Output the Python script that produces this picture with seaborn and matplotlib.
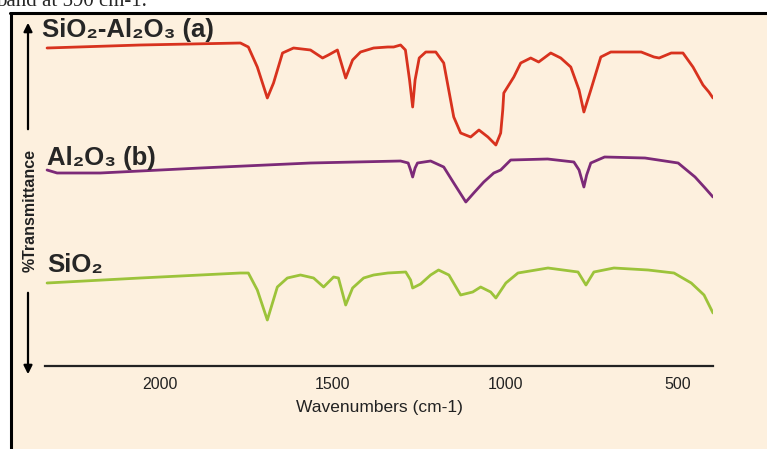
import numpy as np
import pandas as pd
import matplotlib
matplotlib.use("Agg")
import matplotlib.pyplot as plt
import seaborn as sns

# FTIR spectra (wavenumber in cm-1, transmittance in arbitrary offset units)
wn_a = [2328, 2058, 1768, 1745, 1719, 1690, 1672, 1646, 1614, 1565, 1530, 1513, 1487, 1463, 1443,
        1420, 1382, 1341, 1324, 1304, 1290, 1278, 1269, 1262, 1250, 1231, 1202, 1179, 1150, 1130,
        1101, 1077, 1051, 1028, 1014, 1008, 1005, 976, 956, 927, 904, 869, 840, 811, 787, 773,
        753, 724, 695, 607, 570, 555, 520, 486, 457, 428, 411, 399]
t_a = [318, 321, 323, 319, 299, 268, 283, 313, 318, 316, 308, 311, 316, 288, 306,
       314, 318, 319, 319, 321, 316, 286, 259, 286, 308, 314, 314, 303, 249, 233,
       229, 236, 229, 221, 233, 256, 273, 289, 303, 308, 304, 313, 308, 299, 276, 254,
       276, 309, 314, 314, 309, 308, 313, 313, 299, 281, 274, 268]

wn_b = [2328, 2299, 2174, 1884, 1565, 1304, 1282, 1275, 1269, 1262, 1255, 1217, 1179, 1150, 1115,
        1092, 1063, 1034, 1014, 985, 878, 802, 787, 773, 765, 753, 713, 596, 500, 451, 422, 399]
t_b = [196, 193, 193, 198, 203, 205, 203, 196, 189, 198, 203, 205, 199, 183, 164,
       173, 184, 193, 196, 206, 207, 204, 196, 179, 191, 203, 209, 208, 203, 189, 178, 169]

wn_c = [2328, 2058, 1768, 1745, 1719, 1690, 1661, 1632, 1594, 1556, 1527, 1498, 1484, 1463, 1443,
        1411, 1382, 1341, 1289, 1275, 1269, 1246, 1217, 1194, 1164, 1130, 1095, 1072, 1043, 1028,
        999, 964, 877, 790, 767, 744, 686, 587, 512, 462, 425, 399]
t_c = [83, 88, 93, 93, 76, 46, 79, 88, 91, 88, 79, 89, 88, 61, 78,
       88, 91, 93, 94, 86, 78, 82, 91, 96, 91, 71, 74, 79, 74, 68,
       83, 93, 98, 94, 81, 94, 98, 96, 93, 83, 71, 53]

samples = ["SiO2-Al2O3", "Al2O3", "SiO2"]
labels = ["SiO\u2082-Al\u2082O\u2083 (a)", "Al\u2082O\u2083 (b)", "SiO\u2082"]
colors = ["#d8321e", "#7c2a78", "#9cc33a"]
xticks = [2000, 1500, 1000, 500]

df = pd.concat([
    pd.DataFrame({"wavenumber": wn_a, "T": t_a, "sample": samples[0]}),
    pd.DataFrame({"wavenumber": wn_b, "T": t_b, "sample": samples[1]}),
    pd.DataFrame({"wavenumber": wn_c, "T": t_c, "sample": samples[2]}),
])

sns.set_style("white")
plt.rcParams['font.family'] = ['Liberation Sans', 'DejaVu Sans']

cream = "#fdf0de"
fig = plt.figure(figsize=(7.67, 4.49), dpi=100, facecolor="white")
W, H = 767, 449

# cream panel with black frame on top and left
fig.patches.append(plt.Rectangle((12 / W, 0), 1, (H - 13) / H, transform=fig.transFigure,
                                 facecolor=cream, edgecolor="none", zorder=-5))
fig.add_artist(plt.Line2D([10 / W, 1], [(H - 13) / H] * 2, transform=fig.transFigure, color="black", lw=2.2))
fig.add_artist(plt.Line2D([11 / W] * 2, [0, (H - 13) / H], transform=fig.transFigure, color="black", lw=2.2))

# caption cut off at the top of the picture
fig.text(-0.005, (H - 6) / H, "band at 590 cm-1.", family="Liberation Serif", fontsize=15,
         va="baseline", ha="left")

ax = fig.add_axes([45 / W, (H - 366) / H, 668 / W, 346 / H])
ax.set_facecolor("none")

sns.lineplot(data=df, x="wavenumber", y="T", hue="sample", hue_order=samples, palette=colors,
             sort=False, estimator=None, legend=False, lw=2.0, ax=ax)

ax.set_xlim(2334, 399)
ax.set_ylim(0, 346)
for s in ["top", "right", "left"]:
    ax.spines[s].set_visible(False)
ax.spines["bottom"].set_color("#222222")
ax.spines["bottom"].set_linewidth(1.6)
ax.set_yticks([])
ax.set_xticks(xticks)
ax.set_xticklabels([str(t) for t in xticks], fontsize=11.5, color="#222222")
ax.tick_params(axis="x", direction="inout", length=4, width=1, pad=6)
ax.set_xlabel("Wavenumbers (cm-1)", fontsize=12.5, color="#222222", labelpad=6)
ax.set_ylabel("")

# sample labels
label_pos = [(2343, 336), (2328, 208), (2328, 101)]
for (x, y), lab in zip(label_pos, labels):
    ax.text(x, y, lab, fontsize=18.5, fontweight="bold", ha="left", va="center", clip_on=False)

# %Transmittance with arrows
fig.text(30 / W, (H - 210) / H, "%Transmittance", rotation=90, fontsize=11.5, fontweight="bold",
         ha="center", va="center", color="#222222")
fig.add_artist(matplotlib.patches.FancyArrowPatch((28 / W, (H - 132) / H), (28 / W, (H - 20) / H),
               transform=fig.transFigure, arrowstyle="-|>,head_length=5,head_width=2.5",
               color="black", lw=1.6))
fig.add_artist(matplotlib.patches.FancyArrowPatch((28 / W, (H - 290) / H), (28 / W, (H - 377) / H),
               transform=fig.transFigure, arrowstyle="-|>,head_length=5,head_width=2.5",
               color="black", lw=1.6))

fig.savefig("out.png", dpi=100, facecolor="white")
